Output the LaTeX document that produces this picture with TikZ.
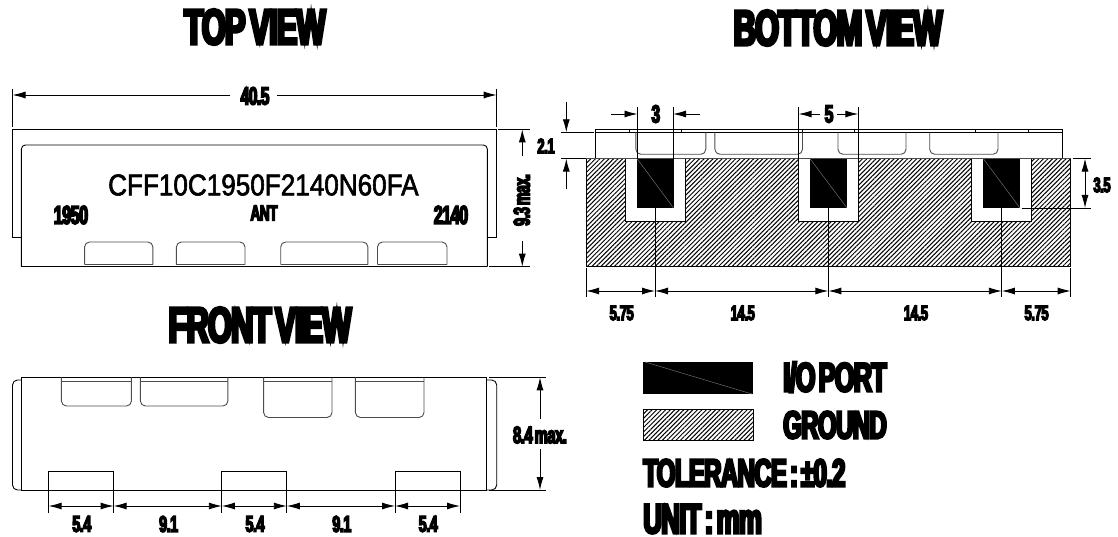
\documentclass[tikz,border=0pt]{standalone}
\usepackage{fontspec}
\usetikzlibrary{arrows.meta,patterns.meta}
\setmainfont{Liberation Sans}
\newfontfamily\heavyfont[FakeStretch=0.62,FakeBold=6,LetterSpace=-2,WordSpace=0.5,BoldFont={}]{Liberation Sans Bold}
\newfontfamily\partfont[FakeStretch=0.87,FakeBold=2]{Liberation Sans}
\tikzset{
  heavy/.style={inner sep=0pt,font=\heavyfont\fontsize{#1}{#1}\selectfont},
  dimline/.style={line width=0.9pt,{Latex[length=13pt,width=7pt]}-{Latex[length=13pt,width=7pt]}},
  dimtip/.style={line width=0.9pt,-{Latex[length=13pt,width=7pt]}},
  extline/.style={line width=0.8pt},
  hull/.style={line width=0.9pt},
  notch/.style={line width=0.9pt,black!70,rounded corners=5pt},
  ground/.style={pattern={Lines[angle=45,distance=3.2pt,line width=1pt]}},
}
\begin{document}
\begin{tikzpicture}[x=1pt,y=-1pt]
\useasboundingbox (0,0) rectangle (1118,537);
% titles
\node[heavy=50] (toptitle) at (255,27) {TOP VIEW};
\node[heavy=50] (bottomtitle) at (838,28) {BOTTOM VIEW};
\node[heavy=50] (fronttitle) at (260,325) {FRONT VIEW};
% top view
\draw[hull] (21.4,237.5) -- (12.5,237.5) -- (12.5,129.3) -- (496.7,129.3) -- (496.7,237.5) -- (487.3,237.5);
\draw[hull,rounded corners=4pt] (21.4,266.7) -- (21.4,145) -- (487.3,145) -- (487.3,266.7);
\draw[hull] (21.4,266.7) -- (487.3,266.7);
\foreach \xa/\xb in {84.6/152.9,176.4/245,280.7/367.9,377.5/447}{
  \draw[notch] (\xa,264.5) -- (\xa,242) -- (\xb,242) -- (\xb,264.5);
  \draw[notch,rounded corners=0pt] (\xa,264.5) -- (\xb,264.5);
}
\node[inner sep=0pt,font=\partfont\fontsize{30}{30}\selectfont] (partno) at (263.4,185) {CFF10C1950F2140N60FA};
\node[heavy=26] (lowband) at (71,215) {1950};
\node[heavy=26] (highband) at (451,215) {2140};
\node[heavy=22] (antenna) at (264,213) {ANT};
\draw[extline] (12.5,89) -- (12.5,127);
\draw[extline] (496.7,89) -- (496.7,127);
\node[heavy=25] (widthlabel) at (255,96) {40.5};
\coordinate (widthleft) at (12.5,95);
\coordinate (widthright) at (496.7,95);
\draw[dimtip] (230.4,95) -- (widthleft);
\draw[dimtip] (276.8,95) -- (widthright);
\draw[extline] (498,129.3) -- (530,129.3);
\draw[extline] (489,266.7) -- (530,266.7);
\node[heavy=23,rotate=90] (depthlabel) at (521.7,200) {9.3 max.};
\coordinate (depthtop) at (522.3,129.3);
\coordinate (depthbottom) at (522.3,266.7);
\draw[dimtip] (522.3,156) -- (depthtop);
\draw[dimtip] (522.3,240.7) -- (depthbottom);
% bottom view
\draw[hull] (595.5,158.6) -- (595.5,129.3) -- (1062,129.3) -- (1062,158.6);
\draw[hull] (595.5,132.3) -- (1062,132.3);
\foreach \xa in {629,681.4,802.5,854.3,975.7,1028}
  \draw[extline] (\xa,129.3) -- (\xa,132.3);
\foreach \xa/\xb in {635.9/705.8,714.9/802.5,838/906,929.7/998}
  \draw[notch] (\xa,132.3) -- (\xa,154.3) -- (\xb,154.3) -- (\xb,132.3);
\path[ground] (586.2,158.6) rectangle (1070.7,266.7);
\draw[hull] (586.2,158.6) rectangle (1070.7,266.7);
\foreach \xa/\xb in {637/673.5,810/847,983.3/1020}{
  \pgfmathsetmacro{\xl}{\xa-11.5}
  \pgfmathsetmacro{\xr}{\xb+11.5}
  \fill[white] (\xl,158.6) rectangle (\xr,221.7);
  \draw[hull] (\xl,158.6) -- (\xl,221.7) -- (\xr,221.7) -- (\xr,158.6);
  \fill[black] (\xa,158.6) rectangle (\xb,208);
  \draw[black!50,line width=0.4pt] (\xa,158.6) -- (\xb,208);
}
\draw[line width=1pt,black!70] (586.2,158.6) -- (1070.7,158.6);
% notch widths
\draw[extline] (637.5,107) -- (637.5,158.6);
\draw[extline] (673,107) -- (673,158.6);
\draw[extline] (798.6,107) -- (798.6,158.6);
\draw[extline] (858.3,107) -- (858.3,158.6);
\node[heavy=25] (padlabel) at (655.8,114) {3};
\node[heavy=25] (gaplabel) at (829,114) {5};
\coordinate (padleft) at (637.5,114);
\coordinate (padright) at (673,114);
\coordinate (gapleft) at (798.6,114);
\coordinate (gapright) at (858.3,114);
\draw[dimtip] (611,114) -- (padleft);
\draw[dimtip] (699.6,114) -- (padright);
\draw[dimtip] (820,114) -- (gapleft);
\draw[dimtip] (837,114) -- (gapright);
% plate height
\draw[extline] (561,132.3) -- (593.5,132.3);
\draw[extline] (561,158.6) -- (586,158.6);
\coordinate (plateup) at (566.3,132.3);
\coordinate (platedown) at (566.3,158.6);
\draw[dimtip] (566.3,101.7) -- (plateup);
\draw[dimtip] (566.3,189.3) -- (platedown);
\node[heavy=21] (platelabel) at (546,146) {2.1};
% port depth
\draw[extline] (1072.7,158.6) -- (1090.7,158.6);
\draw[extline] (1021.7,208) -- (1090.7,208);
\node[heavy=21] (portlabel) at (1102,185) {3.5};
\coordinate (porttop) at (1085,158.6);
\coordinate (portbottom) at (1085,208);
\draw[dimline] (porttop) -- (portbottom);
% port spacing
\foreach \xa in {586.2,1070.7}
  \draw[extline] (\xa,268) -- (\xa,297);
\foreach \xa in {655,828.3,1001.8}
  \draw[extline] (\xa,208) -- (\xa,297);
\foreach \xa/\xb in {586.2/655,655/828.3,828.3/1001.8,1001.8/1070.7}
  \draw[dimline] (\xa,291) -- (\xb,291);
\node[heavy=21] (spacea) at (621.7,313) {5.75};
\node[heavy=21] (spaceb) at (742.8,313) {14.5};
\node[heavy=21] (spacec) at (916,313) {14.5};
\node[heavy=21] (spaced) at (1036.6,313) {5.75};
% front view
\draw[hull] (21.4,377.3) rectangle (486.7,490);
\draw[hull,rounded corners=5pt] (21.4,380) -- (12.5,380) -- (12.5,490) -- (21.4,490);
\draw[hull,rounded corners=5pt] (486.7,380) -- (496.7,380) -- (496.7,490) -- (486.7,490);
\foreach \xa/\xb/\ya in {61.4/131.4/406,140.4/227.9/406,263.6/332/417.5,355.4/424/417.5}{
  \draw[notch] (\xa,377.3) -- (\xa,\ya) -- (\xb,\ya) -- (\xb,377.3);
  \draw[notch,rounded corners=0pt] (\xa,381) -- (\xb,381);
}
\foreach \xa/\xb in {48.6/113.6,221.8/286.8,395/460}
  \draw[hull] (\xa,512.7) -- (\xa,471.7) -- (\xb,471.7) -- (\xb,512.7);
\foreach \xa/\xb in {48.6/113.6,113.6/221.8,221.8/286.8,286.8/395,395/460}
  \draw[dimline] (\xa,506) -- (\xb,506);
\node[heavy=23] (feeta) at (81.8,524) {5.4};
\node[heavy=23] (feetb) at (168.6,524) {9.1};
\node[heavy=23] (feetc) at (255,524) {5.4};
\node[heavy=23] (feetd) at (341.8,524) {9.1};
\node[heavy=23] (feete) at (428.2,524) {5.4};
\draw[extline] (489,377.3) -- (546,377.3);
\draw[extline] (489,490) -- (546,490);
\node[heavy=24] (heightlabel) at (540,435) {8.4 max.};
\coordinate (heighttop) at (540,377.3);
\coordinate (heightbottom) at (540,490);
\draw[dimtip] (540,419) -- (heighttop);
\draw[dimtip] (540,449) -- (heightbottom);
% legend
\fill[black] (643,362) rectangle (753,394);
\draw[black!50,line width=0.4pt] (645,362) -- (752,394);
\path[ground] (643,409) rectangle (753,440);
\draw[hull] (643,409) rectangle (753,440);
\node[heavy=41,anchor=west] (portkey) at (783,377) {I/O PORT};
\node[heavy=39,anchor=west] (groundkey) at (783,425) {GROUND};
\node[heavy=39,anchor=west] (tolerance) at (643,473) {TOLERANCE : ±0.2};
\node[heavy=42,anchor=west] (units) at (643,519) {UNIT : mm};
\end{tikzpicture}
\end{document}
